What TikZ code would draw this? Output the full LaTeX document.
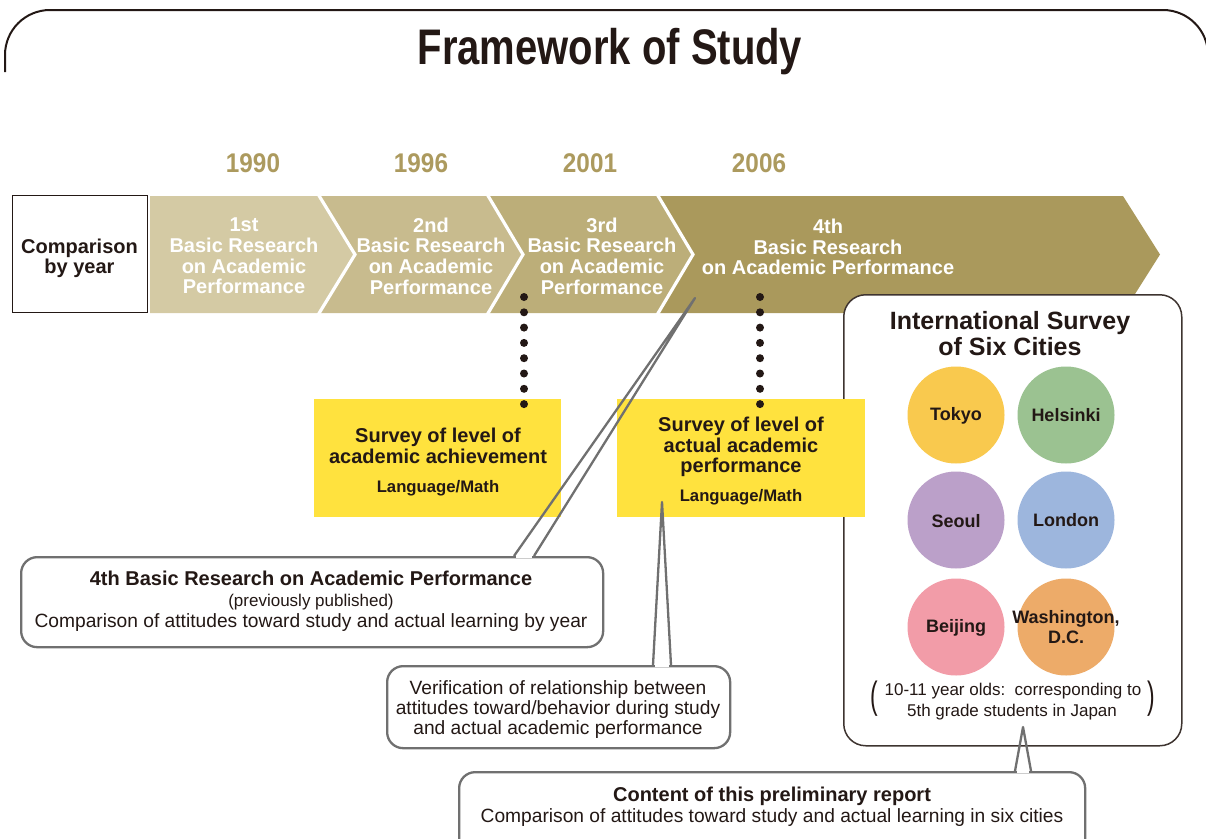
\documentclass[tikz,border=0pt]{standalone}
\usepackage{fontspec}
\setmainfont{Liberation Sans}
\newfontfamily\titlefont[FakeStretch=0.80]{Liberation Sans}
\newfontfamily\yearfont[FakeStretch=0.9]{Liberation Sans}
\definecolor{ink}{RGB}{35,24,21}
\definecolor{yearcol}{RGB}{172,154,94}
\definecolor{segA}{RGB}{212,202,164}
\definecolor{segB}{RGB}{200,187,142}
\definecolor{segC}{RGB}{188,174,121}
\definecolor{segD}{RGB}{170,153,92}
\definecolor{ylw}{RGB}{255,226,62}
\definecolor{callgray}{RGB}{112,112,112}
\definecolor{boxline}{RGB}{62,52,48}
\definecolor{ctokyo}{RGB}{249,201,78}
\definecolor{chelsinki}{RGB}{155,194,145}
\definecolor{cseoul}{RGB}{187,160,201}
\definecolor{clondon}{RGB}{157,182,221}
\definecolor{cbeijing}{RGB}{242,156,168}
\definecolor{cwash}{RGB}{237,171,105}
\tikzset{
  segtext/.style={text=white, font=\bfseries\fontsize{20}{20.7}\selectfont, align=center, inner sep=0},
  yeartext/.style={text=yearcol, font=\yearfont\bfseries\fontsize{27}{30}\selectfont, anchor=base, inner sep=0},
  ybox/.style={fill=ylw, minimum height=118pt, inner sep=0, anchor=north west},
  callbox/.style={draw=callgray, line width=2.3pt, rounded corners=16pt, fill=white, inner sep=0, anchor=north west},
  ptr/.style={draw=callgray, line width=2.3pt, line join=round},
  city/.style={circle, minimum size=97pt, inner sep=0},
  citytext/.style={font=\bfseries\fontsize{18}{20}\selectfont, text=ink, align=center, inner sep=0},
  dotline/.style={draw=ink, line width=8pt, line cap=round, dash pattern=on 0pt off 15.3pt},
  btxt/.style={text=ink, font=\bfseries\fontsize{20}{22}\selectfont, anchor=base, inner sep=0},
  rtxt/.style={text=ink, font=\fontsize{19.2}{21}\selectfont, anchor=base, inner sep=0},
  sep/.style={draw=white, line width=3.2pt},
}
\begin{document}
\begin{tikzpicture}[x=1pt,y=-1pt]
\useasboundingbox (0,0) rectangle (1206,838);
\clip (0,0) rectangle (1206,838);
% outer frame
\draw[ink, line width=2pt, rounded corners=45pt] (5,72) -- (5,10) -- (1208,10) -- (1208,90);
\node[text=ink, font=\titlefont\bfseries\fontsize{50}{56}\selectfont, anchor=base, inner sep=0] (title) at (610,64) {Framework of Study};
% years
\node[yeartext] (y1990) at (253,172) {1990};
\node[yeartext] (y1996) at (421,172) {1996};
\node[yeartext] (y2001) at (590,172) {2001};
\node[yeartext] (y2006) at (759,172) {2006};
% comparison box
\node[draw=ink, line width=1.2pt, minimum width=135pt, minimum height=117pt, anchor=north west, inner sep=0] (cmp) at (12,195) {};
\node[text=ink, font=\bfseries\fontsize{20}{20}\selectfont, align=center, inner sep=0] (cmptxt) at (79.5,258) {Comparison\\by year};
% band
\fill[segA] (150,196) -- (318,196) -- (355,254.5) -- (318,313) -- (150,313) -- cycle;
\fill[segB] (318,196) -- (487,196) -- (523,254.5) -- (487,313) -- (318,313) -- (355,254.5) -- cycle;
\fill[segC] (487,196) -- (657,196) -- (693,254.5) -- (657,313) -- (487,313) -- (523,254.5) -- cycle;
\fill[segD] (657,196) -- (1123,196) -- (1160,254.5) -- (1123,313) -- (657,313) -- (693,254.5) -- cycle;
\draw[sep] (318,194) -- (355,254.5) -- (318,315);
\draw[sep] (487,194) -- (523,254.5) -- (487,315);
\draw[sep] (657,194) -- (693,254.5) -- (657,315);
\node[segtext] (s1) at (244,256) {1st\\Basic Research\\on Academic\\Performance};
\node[segtext] (s2) at (431,256) {2nd\\Basic Research\\on Academic\\Performance};
\node[segtext] (s3) at (602,256) {3rd\\Basic Research\\on Academic\\Performance};
\node[segtext] (s4) at (828,247) {4th\\Basic Research\\on Academic Performance};
% international box
\node[draw=boxline, line width=1.5pt, rounded corners=22pt, fill=white, minimum width=338pt, minimum height=451pt, anchor=north west, inner sep=0] (intl) at (843,294) {};
\node[text=ink, font=\bfseries\fontsize{25}{26}\selectfont, anchor=base, inner sep=0] (it1) at (1010,329.5) {International Survey};
\node[text=ink, font=\bfseries\fontsize{25}{26}\selectfont, anchor=base, inner sep=0] (it2) at (1010,355.5) {of Six Cities};
\node[city, fill=ctokyo] (tokyo) at (956,415) {};
\node[city, fill=chelsinki] (helsinki) at (1066,415) {};
\node[city, fill=cseoul] (seoul) at (956,520) {};
\node[city, fill=clondon] (london) at (1066,520) {};
\node[city, fill=cbeijing] (beijing) at (956,627) {};
\node[city, fill=cwash] (wash) at (1066,627) {};
\node[citytext] (tokyot) at (956,416) {Tokyo};
\node[citytext] (helsinkit) at (1066,415) {Helsinki};
\node[citytext] (seoult) at (956,521) {Seoul};
\node[citytext] (londont) at (1066,520) {London};
\node[citytext] (beijingt) at (956,628) {Beijing};
\node[citytext] (washt) at (1066,627) {Washington,\\D.C.};
\node[text=ink, font=\fontsize{17}{18}\selectfont, anchor=base, inner sep=0] (n1) at (1013,695) {10-11 year olds:\ \ corresponding to};
\node[text=ink, font=\fontsize{17}{18}\selectfont, anchor=base, inner sep=0] (n2) at (1012,716) {5th grade students in Japan};
\node[text=ink, font=\fontsize{38}{40}\selectfont, inner sep=0] (pl) at (874,699) {\scalebox{0.6}[1]{(}};
\node[text=ink, font=\fontsize{38}{40}\selectfont, inner sep=0] (pr) at (1151,699) {\scalebox{0.6}[1]{)}};
% yellow boxes
\node[ybox, minimum width=247pt] (ya) at (314,399) {};
\node[ybox, minimum width=248pt] (yb) at (617,399) {};
\node[btxt] (ya1) at (438,442.5) {Survey of level of};
\node[btxt] (ya2) at (438,463.5) {academic achievement};
\node[btxt, font=\bfseries\fontsize{16.7}{18}\selectfont] (ya3) at (438,492.5) {Language/Math};
\node[btxt] (yb1) at (741,431.5) {Survey of level of};
\node[btxt] (yb2) at (741,452.5) {actual academic};
\node[btxt] (yb3) at (741,472.5) {performance};
\node[btxt, font=\bfseries\fontsize{16.7}{18}\selectfont] (yb4) at (741,501.5) {Language/Math};
% dotted connectors
\coordinate (da1) at (524,297);
\coordinate (da2) at (524,405);
\coordinate (db1) at (760,297);
\coordinate (db2) at (760,405);
\draw[dotline] (da1) -- (da2);
\draw[dotline] (db1) -- (db2);
% callout 1
\node[callbox, minimum width=582pt, minimum height=90pt] (c1) at (20,556) {};
\node[btxt] (c1a) at (311,585.5) {4th Basic Research on Academic Performance};
\node[rtxt, font=\fontsize{17}{18}\selectfont] (c1b) at (311,606.5) {(previously published)};
\node[rtxt] (c1c) at (311,627.5) {Comparison of attitudes toward study and actual learning by year};
\coordinate (t1) at (695,298);
\coordinate (b1a) at (514,556);
\coordinate (b1b) at (534,556);
\draw[white, line width=3pt] (516,556) -- (532,556);
\draw[ptr] (b1a) -- (t1) -- (b1b);
% callout 2
\node[callbox, minimum width=343pt, minimum height=82pt] (c2) at (386,665) {};
\node[rtxt] (c2a) at (558,694.5) {Verification of relationship between};
\node[rtxt] (c2b) at (558,714.5) {attitudes toward/behavior during study};
\node[rtxt] (c2c) at (558,734.5) {and actual academic performance};
\coordinate (t2) at (662,502);
\coordinate (b2a) at (653,665);
\coordinate (b2b) at (671,665);
\draw[white, line width=3pt] (655,665) -- (669,665);
\draw[ptr] (b2a) -- (t2) -- (b2b);
% callout 3
\node[callbox, minimum width=626pt, minimum height=100pt] (c3) at (458,771) {};
\node[btxt] (c3a) at (772,801.5) {Content of this preliminary report};
\node[rtxt] (c3b) at (772,822.5) {Comparison of attitudes toward study and actual learning in six cities};
\coordinate (t3) at (1023,727);
\coordinate (b3a) at (1015,771);
\coordinate (b3b) at (1031,771);
\draw[white, line width=3pt] (1017,771) -- (1029,771);
\draw[ptr] (b3a) -- (t3) -- (b3b);
\end{tikzpicture}
\end{document}
